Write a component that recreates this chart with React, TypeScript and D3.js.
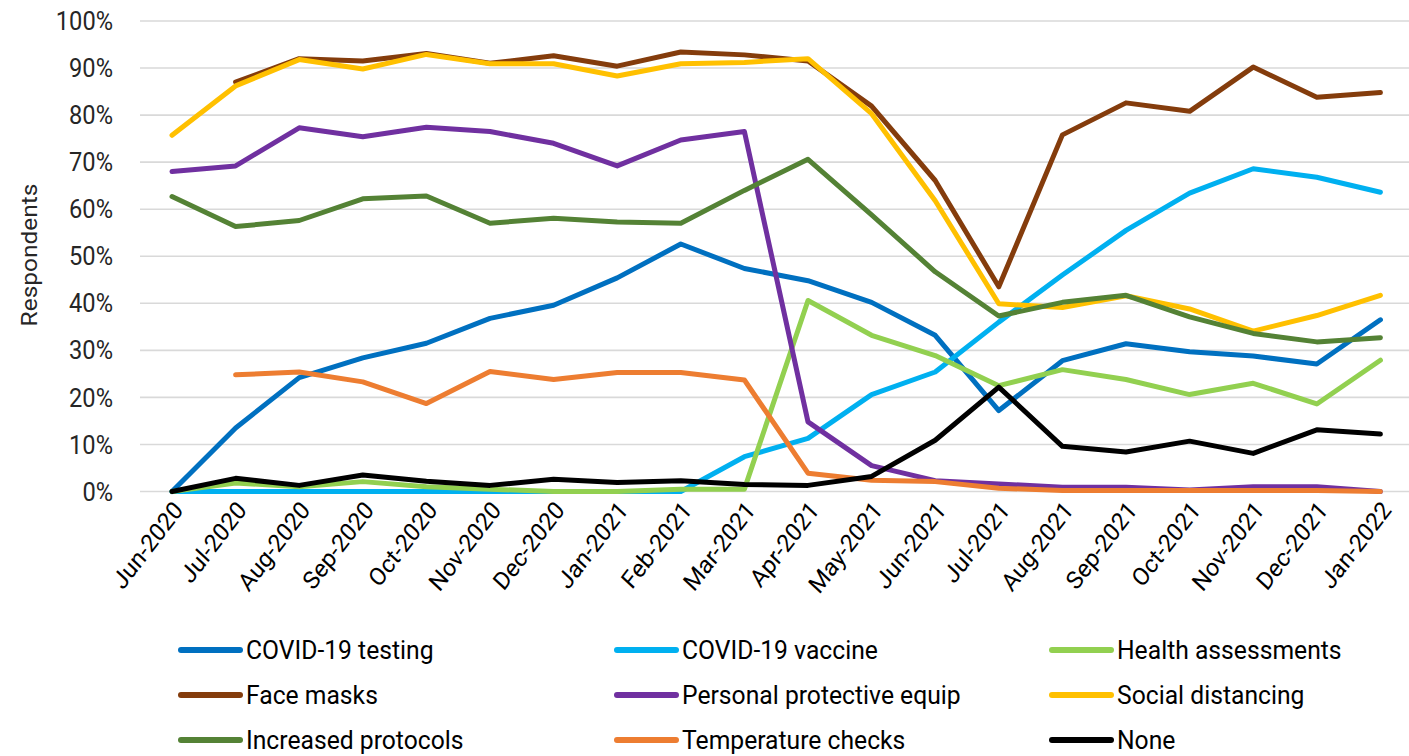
import React from "react";
import * as d3 from "d3";

const months = [
  "Jun-2020", "Jul-2020", "Aug-2020", "Sep-2020", "Oct-2020", "Nov-2020", "Dec-2020",
  "Jan-2021", "Feb-2021", "Mar-2021", "Apr-2021", "May-2021", "Jun-2021", "Jul-2021",
  "Aug-2021", "Sep-2021", "Oct-2021", "Nov-2021", "Dec-2021", "Jan-2022",
];

const yTicks = [0, 10, 20, 30, 40, 50, 60, 70, 80, 90, 100];

const covidTesting = [0, 13.5, 24.2, 28.4, 31.5, 36.8, 39.6, 45.4, 52.6, 47.4, 44.8, 40.2, 33.2, 17.2, 27.8, 31.4, 29.7, 28.8, 27.1, 36.5];
const covidVaccine = [0, 0, 0, 0, 0, 0, 0, 0, 0, 7.4, 11.3, 20.6, 25.4, 36.0, 46.0, 55.5, 63.4, 68.6, 66.8, 63.6];
const healthAssessments = [0, 1.8, 1.0, 2.1, 1.0, 0.5, 0, 0, 0.5, 0.5, 40.6, 33.2, 28.9, 22.5, 25.9, 23.8, 20.6, 23.0, 18.6, 27.9];
const faceMasks = [null, 87.0, 92.0, 91.5, 93.1, 91.0, 92.6, 90.4, 93.4, 92.8, 91.5, 81.9, 66.1, 43.5, 75.8, 82.6, 80.8, 90.2, 83.8, 84.8];
const ppe = [68.0, 69.2, 77.3, 75.4, 77.4, 76.5, 74.0, 69.2, 74.7, 76.5, 14.8, 5.5, 2.3, 1.6, 0.9, 0.9, 0.3, 1.0, 1.0, 0];
const socialDistancing = [75.7, 86.2, 91.8, 89.8, 92.9, 90.9, 90.9, 88.3, 90.9, 91.2, 92.0, 80.3, 61.8, 39.9, 39.1, 41.6, 38.8, 34.1, 37.4, 41.7];
const increasedProtocols = [62.7, 56.3, 57.6, 62.2, 62.8, 57.0, 58.1, 57.3, 57.0, 64.0, 70.6, 58.8, 46.7, 37.3, 40.2, 41.7, 37.1, 33.6, 31.8, 32.7];
const temperatureChecks = [null, 24.8, 25.4, 23.3, 18.7, 25.5, 23.8, 25.3, 25.3, 23.7, 3.9, 2.4, 2.1, 0.7, 0.2, 0.2, 0.2, 0.2, 0.2, 0];
const noneSeries = [0, 2.8, 1.3, 3.5, 2.2, 1.3, 2.6, 1.9, 2.3, 1.5, 1.3, 3.2, 10.9, 22.2, 9.6, 8.4, 10.7, 8.1, 13.1, 12.2];

const seriesNames = [
  "COVID-19 testing", "COVID-19 vaccine", "Health assessments",
  "Face masks", "Personal protective equip", "Social distancing",
  "Increased protocols", "Temperature checks", "None",
];
const seriesColors = [
  "#0070C0", "#00B0F0", "#92D050",
  "#843C0C", "#7030A0", "#FFC000",
  "#548235", "#ED7D31", "#000000",
];
const seriesValues: (number | null)[][] = [
  covidTesting, covidVaccine, healthAssessments,
  faceMasks, ppe, socialDistancing,
  increasedProtocols, temperatureChecks, noneSeries,
];

const W = 1409;
const H = 756;
const FONT = "Roboto, 'Noto Sans', sans-serif";
const SX = 0.91;
const SX_LEGEND = 0.95;

export default function App() {
  const x = d3.scalePoint<string>().domain(months).range([172, 1380.4]);
  const y = d3.scaleLinear().domain([0, 100]).range([491.5, 21]);
  const line = d3
    .line<number | null>()
    .defined((d) => d !== null)
    .x((_, i) => x(months[i]) as number)
    .y((d) => y(d as number));

  const legendCols = [181, 617, 1052];
  const legendRows = [650, 695, 740];

  return (
    <svg
      width={W}
      height={H}
      style={{ position: "absolute", left: 0, top: 0, background: "#fff" }}
      fontFamily={FONT}
    >
      {yTicks.map((t) => (
        <g key={t}>
          <line x1={140} x2={W} y1={y(t)} y2={y(t)} stroke="#d9d9d9" strokeWidth={1.6} />
          <text
            transform={`translate(113,${y(t)}) scale(${SX},1)`}
            dy="0.35em"
            textAnchor="end"
            fontSize={26}
            fill="#262626"
          >
            {t}%
          </text>
        </g>
      ))}
      <text
        transform={`translate(37,255) scale(${SX},1) rotate(-90)`}
        textAnchor="middle"
        fontSize={24.5}
        fill="#262626"
      >
        Respondents
      </text>
      {months.map((m) => (
        <text
          key={m}
          transform={`translate(${(x(m) as number) + 6},505) scale(${SX},1) rotate(-50)`}
          textAnchor="end"
          dy="0.35em"
          fontSize={25}
          fill="#000"
        >
          {m}
        </text>
      ))}
      {seriesValues.map((vals, i) => (
        <path
          key={seriesNames[i]}
          d={line(vals) || ""}
          fill="none"
          stroke={seriesColors[i]}
          strokeWidth={5}
          strokeLinejoin="round"
          strokeLinecap="round"
        />
      ))}
      {seriesNames.map((name, i) => {
        const cx = legendCols[i % 3];
        const cy = legendRows[Math.floor(i / 3)];
        return (
          <g key={name}>
            <line x1={cx} x2={cx + 59} y1={cy} y2={cy} stroke={seriesColors[i]} strokeWidth={6} strokeLinecap="round" />
            <text
              transform={`translate(${cx + 65},${cy}) scale(${SX_LEGEND},1)`}
              dy="0.35em"
              fontSize={26}
              fill="#000"
            >
              {name}
            </text>
          </g>
        );
      })}
    </svg>
  );
}
